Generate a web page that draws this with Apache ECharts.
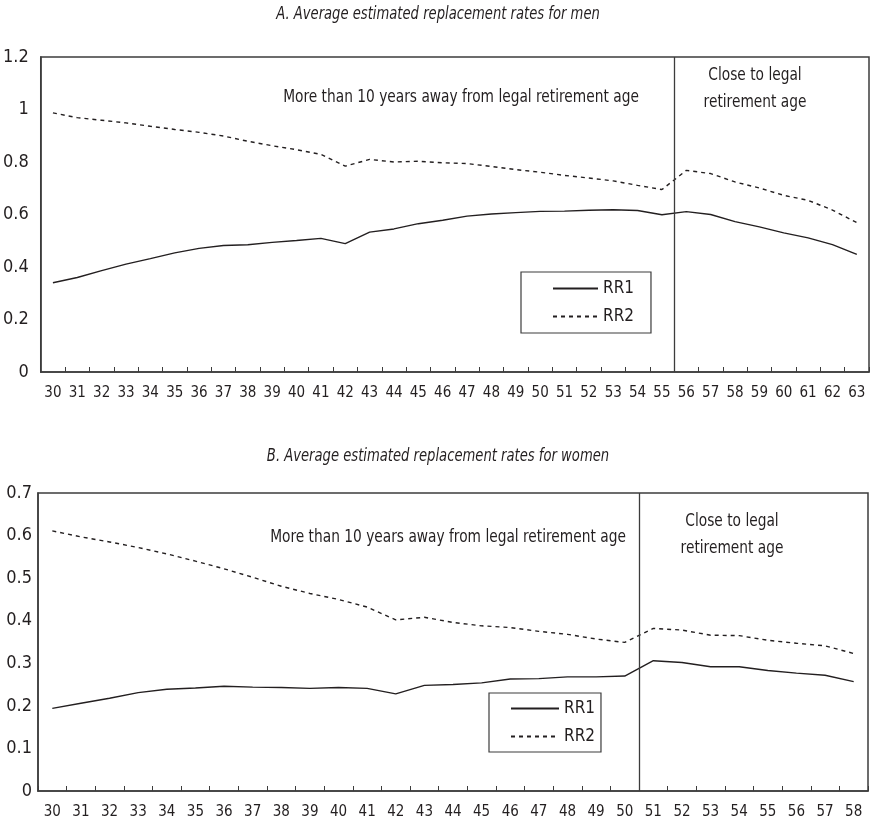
<!DOCTYPE html>
<html>
<head>
<meta charset="utf-8">
<script src="https://cdn.jsdelivr.net/npm/echarts@6/dist/echarts.min.js"></script>
<style>
  html, body { margin: 0; padding: 0; background: #fff; }
  #chart { width: 870px; height: 823px; }
</style>
</head>
<body>
<div id="chart"></div>
<script>
// ages on the x axis
var menAges = ['30','31','32','33','34','35','36','37','38','39','40','41','42','43','44','45','46',
    '47','48','49','50','51','52','53','54','55','56','57','58','59','60','61','62','63']
var womenAges = ['30','31','32','33','34','35','36','37','38','39','40','41','42','43','44',
    '45','46','47','48','49','50','51','52','53','54','55','56','57','58']

// A. men
var menRR1 = [0.34, 0.36, 0.386, 0.411, 0.432, 0.454, 0.471, 0.482, 0.485, 0.494, 0.501, 0.509,
    0.489, 0.533, 0.545, 0.565, 0.578, 0.594, 0.602, 0.607, 0.612, 0.613, 0.616, 0.618, 0.615,
    0.599, 0.611, 0.6, 0.573, 0.553, 0.53, 0.511, 0.485, 0.448]
var menRR2 = [0.987, 0.969, 0.959, 0.949, 0.936, 0.924, 0.913, 0.899, 0.879, 0.862, 0.847, 0.829,
    0.784, 0.81, 0.8, 0.803, 0.797, 0.794, 0.783, 0.771, 0.761, 0.749, 0.739, 0.728, 0.711,
    0.695, 0.768, 0.756, 0.724, 0.701, 0.673, 0.654, 0.617, 0.569]

// B. women
var womenRR1 = [0.194, 0.206, 0.218, 0.231, 0.239, 0.242, 0.246, 0.244, 0.243, 0.241, 0.243, 0.241,
    0.228, 0.248, 0.25, 0.254, 0.263, 0.264, 0.268, 0.268, 0.27, 0.306, 0.302, 0.292, 0.292,
    0.283, 0.277, 0.272, 0.257]
var womenRR2 = [0.611, 0.597, 0.585, 0.572, 0.557, 0.54, 0.522, 0.502, 0.481, 0.464, 0.45, 0.432,
    0.402, 0.408, 0.396, 0.388, 0.384, 0.375, 0.368, 0.357, 0.349, 0.382, 0.378, 0.366, 0.365,
    0.354, 0.347, 0.341, 0.323]

// position of the "close to legal retirement age" boundary (in category units)
var menBoundary = 26
var womenBoundary = 21

var FONT = '"Liberation Sans Narrow", "DejaVu Sans Condensed", "Liberation Sans", sans-serif'
var INK = '#231f20'
var FRAME = '#3c3c3c'
var NARROW = 0.85   // squeeze text towards the condensed face of the original

var myChart = echarts.init(document.getElementById('chart'))

function catAxis(idx, ages) {
    return {
        type: 'category', gridIndex: idx, data: ages, boundaryGap: true,
        axisLine: { lineStyle: { color: FRAME, width: 1.5 } },
        axisTick: { show: true, length: 5, inside: true, lineStyle: { color: FRAME } },
        axisLabel: { color: INK, fontFamily: FONT, fontSize: 15, margin: 14, interval: 0 },
        splitLine: { show: false }
    }
}

function valAxis(idx, max, step, margin) {
    return {
        type: 'value', gridIndex: idx, min: 0, max: max, interval: step,
        axisLine: { show: true, lineStyle: { color: FRAME, width: 1.5 } },
        axisTick: { show: false },
        axisLabel: { color: INK, fontFamily: FONT, fontSize: 18, margin: margin },
        splitLine: { show: false }
    }
}

// hidden linear axis, only used to place the boundary line between two ages
function helperAxis(idx, n) {
    return { type: 'value', gridIndex: idx, min: 0, max: n, show: false }
}

function boundarySeries(xIdx, yIdx, pos) {
    return {
        type: 'line', xAxisIndex: xIdx, yAxisIndex: yIdx, data: [], silent: true,
        markLine: {
            silent: true, symbol: 'none', label: { show: false },
            lineStyle: { color: FRAME, width: 1.3, type: 'solid' },
            data: [{ xAxis: pos }]
        }
    }
}

function rrSeries(name, xIdx, yIdx, values, dashed) {
    return {
        name: name, type: 'line', xAxisIndex: xIdx, yAxisIndex: yIdx,
        data: values, symbol: 'none', smooth: false,
        lineStyle: { color: INK, width: 1.4, type: dashed ? [4, 4] : 'solid' },
        itemStyle: { color: INK }
    }
}

function legendBox(left, top, padding, itemWidth) {
    return {
        data: ['RR1', 'RR2'], orient: 'vertical', left: left, top: top,
        padding: padding, itemGap: 11, itemWidth: itemWidth, itemHeight: 14,
        borderColor: FRAME, borderWidth: 1.2, selectedMode: false,
        itemStyle: { opacity: 0 },
        textStyle: { color: INK, fontFamily: FONT, fontSize: 17 }
    }
}

function label(text, x, y, size, italic, scale) {
    return {
        type: 'text', x: x, y: y, scaleX: scale,
        style: {
            text: text, fill: INK, align: 'center', verticalAlign: 'middle', lineHeight: 27,
            font: (italic ? 'italic ' : '') + size + 'px ' + FONT
        }
    }
}

var option = {
    backgroundColor: '#fff',
    animation: false,
    grid: [
        { left: 39, right: 1, top: 57, height: 315, show: true, borderColor: FRAME, borderWidth: 1.5 },
        { left: 38, right: 2, top: 493, height: 298, show: true, borderColor: FRAME, borderWidth: 1.5 }
    ],
    xAxis: [
        catAxis(0, menAges), catAxis(1, womenAges),
        helperAxis(0, menAges.length), helperAxis(1, womenAges.length)
    ],
    yAxis: [
        valAxis(0, 1.2, 0.2, 12),
        valAxis(1, 0.7, 0.1, 6)
    ],
    legend: [
        legendBox(521, 272, [8, 17, 8, 31], 45),
        legendBox(489, 693, [7, 6, 7, 21], 48)
    ],
    graphic: [
        label('A. Average estimated replacement rates for men', 438, 15, 17, true, 0.86),
        label('B. Average estimated replacement rates for women', 438, 457, 17, true, 0.86),
        label('More than 10 years away from legal retirement age', 461, 97, 18, false, NARROW),
        label('Close to legal\nretirement age', 755, 89, 18, false, NARROW),
        label('More than 10 years away from legal retirement age', 448, 537, 18, false, NARROW),
        label('Close to legal\nretirement age', 732, 535, 18, false, NARROW)
    ],
    series: [
        rrSeries('RR1', 0, 0, menRR1, false),
        rrSeries('RR2', 0, 0, menRR2, true),
        rrSeries('RR1', 1, 1, womenRR1, false),
        rrSeries('RR2', 1, 1, womenRR2, true),
        boundarySeries(2, 0, menBoundary),
        boundarySeries(3, 1, womenBoundary)
    ]
}

myChart.setOption(option)
</script>
</body>
</html>
